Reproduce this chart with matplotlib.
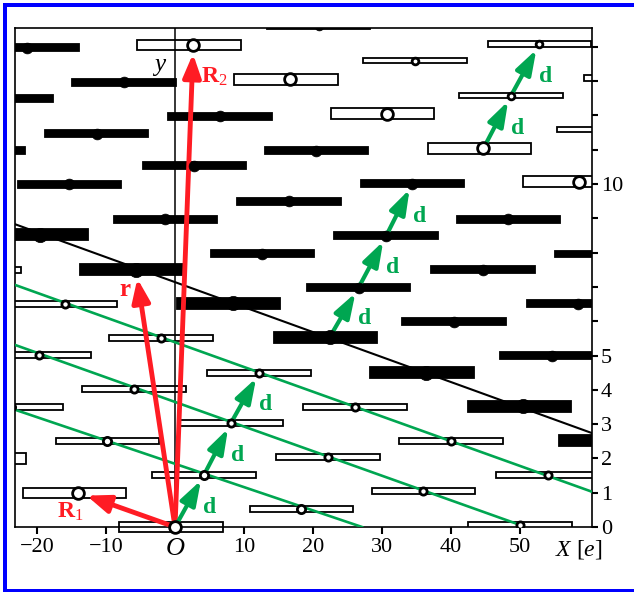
import matplotlib
matplotlib.use("Agg")
import matplotlib.pyplot as plt
from matplotlib.patches import Rectangle

plt.rcParams["font.family"] = "Liberation Serif"
plt.rcParams["mathtext.fontset"] = "custom"
plt.rcParams["mathtext.rm"] = "Liberation Serif"
plt.rcParams["mathtext.it"] = "Liberation Serif:italic"
plt.rcParams["mathtext.bf"] = "Liberation Serif:bold"

# lattice sites (X in units of e, Y) and the lattice row they sit on
point_x = [
    0.0, -14.0, -28.5,
    18.3, 4.2, -9.8, -23.7,
    50.0, 36.0, 22.2, 8.1, -5.94, -19.7,
    54.0, 40.0, 26.1, 12.2, -2.03, -15.9, -29.8,
    63.8, 50.5, 36.4, 22.4, 8.36, -5.65, -19.5,
    54.6, 40.4, 26.6, 12.65, -1.4, -15.3, -29.2,
    58.45, 44.6, 30.6, 16.5, 2.8, -11.35, -25.2,
    62.6, 48.3, 34.4, 20.5, 6.5, -7.4, -21.4,
    58.6, 44.7, 30.7, 16.7, 2.65,
    62.8, 48.7, 34.8, 20.8,
    66.8, 52.8,
]
point_y = [
    0.0, 1.0, 2.0,
    0.52, 1.52, 2.51, 3.49,
    0.05, 1.04, 2.05, 3.03, 4.02, 5.02,
    1.53, 2.51, 3.5, 4.5, 5.52, 6.51, 7.49,
    2.52, 3.52, 4.5, 5.53, 6.52, 7.5, 8.52,
    4.99, 5.99, 6.98, 7.97, 8.97, 9.99, 10.97,
    6.51, 7.5, 8.49, 9.5, 10.53, 11.47, 12.5,
    7.96, 8.97, 10.01, 10.97, 11.97, 12.97, 13.97,
    10.07, 11.04, 12.05, 13.05, 14.05,
    11.59, 12.58, 13.6, 14.6,
    13.09, 14.08,
]
point_row = (
    [0] * 3 + [1] * 4 + [2] * 6 + [3] * 7 + [4] * 7 + [5] * 7
    + [6] * 7 + [7] * 7 + [8] * 5 + [9] * 4 + [10] * 2
)
# rows 4-7 are dark, plus the clipped site at the top of row 9
dark_rows = [4, 5, 6, 7]
extra_dark = [(20.8, 14.6)]

# basis vectors drawn from the origin
vec_r1 = (-14.0, 1.0)
vec_r2 = (2.65, 14.05)
vec_r = (-5.65, 7.5)

# chains of d steps
chain_low_x = [0.0, 4.2, 8.1, 12.2]
chain_low_y = [0.0, 1.52, 3.03, 4.5]
chain_mid_x = [22.4, 26.6, 30.6, 34.4]
chain_mid_y = [5.53, 6.98, 8.49, 10.01]
chain_up_x = [44.7, 48.7, 52.8]
chain_up_y = [11.04, 12.58, 14.08]

# lattice lines (end points)
green_lines = [
    ([-23.2, 27.1], [3.42, 0.0]),
    ([-23.2, 50.0], [5.31, 0.06]),
    ([-23.2, 60.4], [7.06, 1.03]),
]
black_line_x = [-23.2, 60.4]
black_line_y = [8.83, 2.74]

x_ticks = [-20, -10, 0, 10, 20, 30, 40, 50]
x_tick_labels = ["\u221220", "\u221210", "O", "10", "20", "30", "40", "50"]
y_ticks = list(range(15))
y_tick_labels = ["0", "1", "2", "3", "4", "5", "", "", "", "", "10", "", "", "", ""]

RED = "#ff1c24"
GREEN = "#00a651"
BLUE = "#0000ff"

BAR_PX = {0: 12.0, 1: 8.0, 2: 7.5, 3: 7.8, 4: 13.0, 5: 8.7, 6: 8.7, 7: 8.7,
          8: 12.3, 9: 7.5, 10: 7.5}
DOT_PX = {0: 14.5, 1: 11.0, 2: 10.0, 3: 10.0, 4: 15.0, 5: 11.5, 6: 11.5,
          7: 11.5, 8: 14.5, 9: 9.5, 10: 9.5}
BAR_SHIFT = {0: -0.6, 4: -0.6, 8: -0.6}
BAR_LEN = 15.0
EDGE_PT = 1.3

W, H = 634, 592
fig = plt.figure(figsize=(W / 100, H / 100), dpi=100)
ax = fig.add_axes([15 / W, 65 / H, 577 / W, 499 / H])
xmin, xmax = -23.19, 60.43
ymin, ymax = 0.0, 14.55
ax.set_xlim(xmin, xmax)
ax.set_ylim(ymin, ymax)
px_y = 499 / (ymax - ymin)

# bars and sites
for x, y, row in zip(point_x, point_y, point_row):
    dark = row in dark_rows or (x, y) in extra_dark
    h = (BAR_PX[row] - EDGE_PT / 0.72) / px_y
    cx = x + BAR_SHIFT.get(row, 0.0)
    at_origin = x == 0.0 and y == 0.0
    ax.add_patch(Rectangle(
        (cx - BAR_LEN / 2, y - h / 2), BAR_LEN, h,
        facecolor="black" if dark else "white",
        edgecolor="black", linewidth=EDGE_PT, zorder=2,
        clip_on=not at_origin,
    ))
    ms = DOT_PX[row] * 0.72
    ax.plot(
        [x], [y], "o",
        markersize=ms - 2.0 if not dark else ms - 0.5,
        markerfacecolor="black" if dark else "white",
        markeredgecolor="black", markeredgewidth=2.0 if not dark else 0.5,
        zorder=6, clip_on=not at_origin,
    )

ax.axvline(0, color="black", linewidth=1.1, zorder=2.5)

for lx, ly in green_lines:
    ax.plot(lx, ly, color=GREEN, linewidth=1.9, zorder=3)
ax.plot(black_line_x, black_line_y, color="black", linewidth=1.5, zorder=3)


def arrow(start, end, color, lw, shrink, hl=0.7, hw=0.27):
    ax.annotate(
        "", xy=end, xytext=start,
        arrowprops=dict(
            arrowstyle=f"-|>,head_length={hl},head_width={hw}",
            color=color, linewidth=lw, mutation_scale=20,
            shrinkA=0, shrinkB=shrink,
        ),
        zorder=5,
    )


arrow((0, 0), vec_r1, RED, 3.5, DOT_PX[0] * 0.36 + 1)
arrow((0, 0), vec_r2, RED, 3.5, DOT_PX[8] * 0.36 + 1)
arrow((0, 0), vec_r, RED, 3.5, DOT_PX[4] * 0.36 + 1)
ax.annotate(r"$\mathbf{R}_{1}$", xy=vec_r1, xytext=(-6, -14),
            textcoords="offset points", ha="center", va="center",
            color=RED, fontsize=17)
ax.annotate(r"$\mathbf{R}_{2}$", xy=vec_r2, xytext=(15, -23),
            textcoords="offset points", ha="center", va="center",
            color=RED, fontsize=17)
ax.annotate("r", xy=vec_r, xytext=(-8, -14), textcoords="offset points",
            ha="center", va="center", color=RED, fontsize=18,
            fontweight="bold")

for cx_list, cy_list in [(chain_low_x, chain_low_y),
                         (chain_mid_x, chain_mid_y),
                         (chain_up_x, chain_up_y)]:
    for i in range(len(cx_list) - 1):
        p0 = (cx_list[i], cy_list[i])
        p1 = (cx_list[i + 1], cy_list[i + 1])
        arrow(p0, p1, GREEN, 3.0, 4.5, hl=0.75, hw=0.25)
        mid = ((p0[0] + p1[0]) / 2, (p0[1] + p1[1]) / 2)
        ax.annotate("d", xy=mid, xytext=(14.5, -4.5),
                    textcoords="offset points", ha="center", va="center",
                    color=GREEN, fontsize=17, fontweight="bold")

ax.annotate("y", xy=(0, ymax), xytext=(-11, -27), textcoords="offset points",
            ha="center", va="center", fontsize=18, fontstyle="italic")

# axes
for spine in ax.spines.values():
    spine.set_linewidth(1.2)
ax.yaxis.tick_right()
ax.set_yticks(y_ticks)
ax.set_yticklabels(y_tick_labels)
ax.set_xticks(x_ticks)
ax.set_xticklabels(x_tick_labels)
ax.tick_params(axis="y", direction="out", length=4.5, width=1.5, pad=2,
               labelsize=16, left=False, right=True)
ax.tick_params(axis="x", direction="out", length=5, width=1.5, pad=3,
               labelsize=16, top=False)
for lbl in ax.get_xticklabels():
    if lbl.get_text() == "O":
        lbl.set_fontstyle("italic")
        lbl.set_fontsize(19)
ax.text(0.977, -0.046, "$X$ [$e$]", transform=ax.transAxes,
        ha="center", va="center", fontsize=17)

# blue frame around the figure (left, top, bottom)
fig.add_artist(Rectangle((3.3 / W, 0), 4 / W, (H - 3.3) / H,
                         transform=fig.transFigure, color=BLUE, lw=0))
fig.add_artist(Rectangle((3.3 / W, (H - 7.3) / H), 1, 4 / H,
                         transform=fig.transFigure, color=BLUE, lw=0))
fig.add_artist(Rectangle((3.3 / W, 0), 1, 3.5 / H,
                         transform=fig.transFigure, color=BLUE, lw=0))

fig.savefig("out.png", dpi=100)
